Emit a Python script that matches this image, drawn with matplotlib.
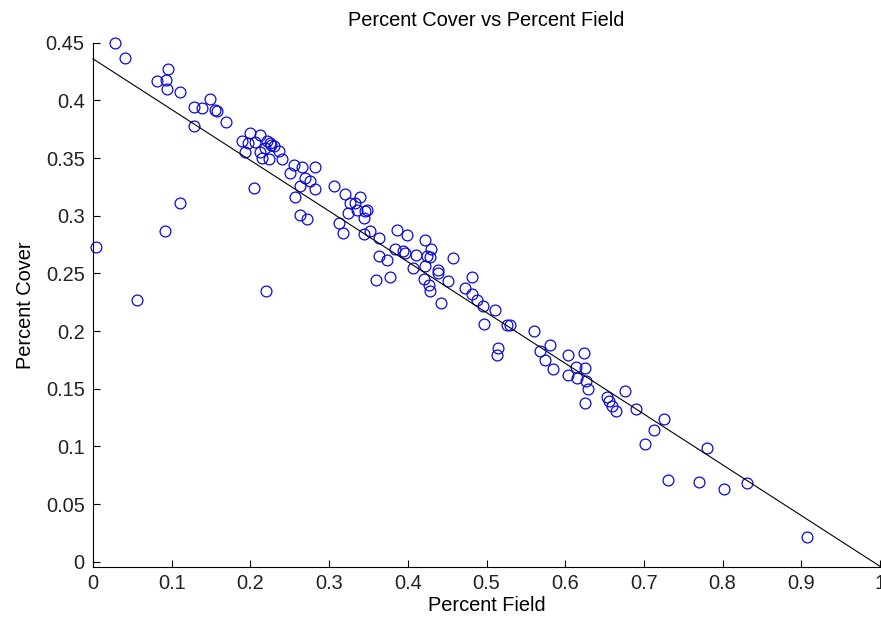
import numpy as np
import matplotlib
matplotlib.use("Agg")
matplotlib.rcParams.update({
    'font.family': ['Liberation Sans', 'DejaVu Sans'],
    'font.size': 14.4,
})
from matplotlib import pyplot as plt

# percent field / percent cover
percent_field = [
    0.028, 0.041, 0.095, 0.081, 0.093, 0.094, 0.111, 0.128, 0.138, 0.149,
    0.155, 0.157, 0.169, 0.128,
    0.004, 0.056, 0.092, 0.110, 0.204, 0.220,
    0.200, 0.189, 0.197, 0.212, 0.206, 0.221, 0.225, 0.219, 0.193, 0.212,
    0.223, 0.236, 0.240, 0.255, 0.265, 0.282, 0.250, 0.269, 0.276, 0.282,
    0.263, 0.257, 0.263, 0.272, 0.226, 0.230, 0.215,
    0.306, 0.320, 0.339, 0.327, 0.333, 0.324, 0.335, 0.346, 0.344, 0.348,
    0.312, 0.318, 0.344, 0.352, 0.363, 0.363, 0.360, 0.373, 0.377,
    0.386, 0.399, 0.422, 0.430, 0.384, 0.394, 0.396, 0.411, 0.424, 0.428,
    0.458, 0.407, 0.422, 0.420, 0.439, 0.451, 0.427, 0.428, 0.442, 0.439,
    0.481, 0.473, 0.481, 0.488, 0.496, 0.511, 0.497, 0.526, 0.530, 0.515,
    0.513,
    0.560, 0.581, 0.568, 0.574, 0.584, 0.603, 0.614, 0.604, 0.615, 0.624,
    0.625, 0.627, 0.629, 0.625, 0.653, 0.656, 0.659, 0.665, 0.676, 0.690,
    0.725, 0.713, 0.702, 0.731, 0.770, 0.780, 0.802, 0.831, 0.907,
]
percent_cover = [
    0.450, 0.437, 0.427, 0.417, 0.418, 0.410, 0.407, 0.394, 0.393, 0.401,
    0.392, 0.391, 0.381, 0.378,
    0.273, 0.227, 0.287, 0.311, 0.324, 0.235,
    0.372, 0.365, 0.363, 0.370, 0.364, 0.365, 0.363, 0.359, 0.355, 0.355,
    0.349, 0.356, 0.349, 0.344, 0.342, 0.342, 0.337, 0.333, 0.330, 0.323,
    0.326, 0.316, 0.301, 0.297, 0.361, 0.360, 0.350,
    0.326, 0.319, 0.316, 0.311, 0.311, 0.302, 0.305, 0.304, 0.298, 0.305,
    0.294, 0.285, 0.284, 0.287, 0.281, 0.265, 0.244, 0.262, 0.247,
    0.288, 0.283, 0.279, 0.271, 0.271, 0.269, 0.268, 0.266, 0.265, 0.264,
    0.263, 0.255, 0.256, 0.245, 0.250, 0.243, 0.240, 0.235, 0.224, 0.253,
    0.247, 0.237, 0.232, 0.227, 0.222, 0.218, 0.206, 0.205, 0.205, 0.185,
    0.179,
    0.200, 0.188, 0.183, 0.175, 0.167, 0.179, 0.169, 0.162, 0.159, 0.181,
    0.168, 0.157, 0.150, 0.138, 0.143, 0.139, 0.135, 0.131, 0.148, 0.132,
    0.124, 0.114, 0.102, 0.071, 0.069, 0.099, 0.063, 0.068, 0.021,
]

# fitted line end points
fit_x = [0.0, 1.0]
fit_y = [0.436, -0.004]

x_ticks = [0, 0.1, 0.2, 0.3, 0.4, 0.5, 0.6, 0.7, 0.8, 0.9, 1]
y_ticks = [0, 0.05, 0.1, 0.15, 0.2, 0.25, 0.3, 0.35, 0.4, 0.45]


def main():
    fig = plt.figure(figsize=(8.81, 6.24), dpi=100)
    # axes box: x 93..880 px, y 42.7..567 px (from top)
    ax = fig.add_axes([93/881, 57/624, 787/881, 524.3/624])

    ax.plot(percent_field, percent_cover, 'o', mfc='none', mec='#0a0ad8',
            ms=7.8, mew=0.9, clip_on=False)
    ax.plot(fit_x, fit_y, '-', color='k', lw=0.8, clip_on=False)

    ax.set_xlim(0, 1)
    ax.set_ylim(-0.0046, 0.45)
    ax.set_xticks(x_ticks)
    ax.set_yticks(y_ticks)
    ax.set_xticklabels(['%g' % t for t in x_ticks])
    ax.set_yticklabels(['%g' % t for t in y_ticks])
    ax.tick_params(direction='in', length=5, width=0.8, colors='k',
                   labelcolor='#222222', labelsize=14.4)
    ax.tick_params(axis='y', pad=6)
    ax.tick_params(axis='x', pad=5)

    ax.spines['top'].set_visible(False)
    ax.spines['right'].set_visible(False)
    for s in ('left', 'bottom'):
        ax.spines[s].set_linewidth(0.8)

    ax.set_title('Percent Cover vs Percent Field', fontsize=14.4, pad=12)
    ax.set_xlabel('Percent Field', fontsize=14.4, labelpad=2)
    ax.set_ylabel('Percent Cover', fontsize=14.4, labelpad=8)

    plt.savefig('out.png', dpi=100)
    plt.close('all')


if __name__ == '__main__':
    main()
